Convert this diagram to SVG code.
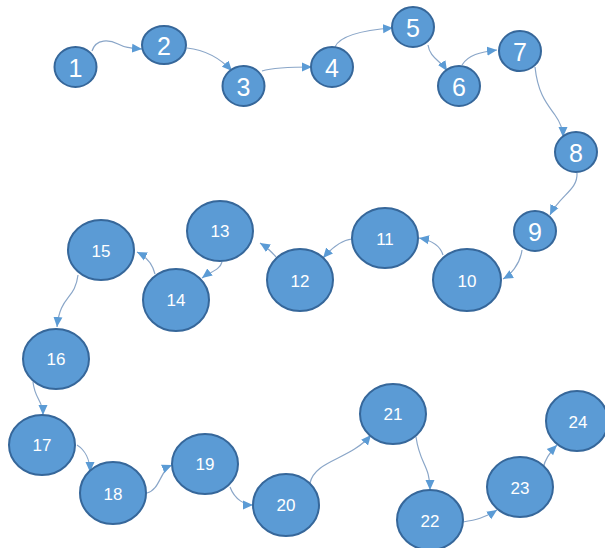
<svg xmlns="http://www.w3.org/2000/svg" width="605" height="548" viewBox="0 0 605 548">
<style>
.n ellipse{fill:#5B9BD5;stroke:#36679A;stroke-width:2}
.n text{fill:#FFFFFF;font-family:"Liberation Sans","Open Sans",sans-serif;text-anchor:middle;dominant-baseline:central}
.s text{font-size:25px}
.b text{font-size:17px}
#edges path{fill:none;stroke:#8AA6C8;stroke-width:1.2;marker-end:url(#ah)}
</style>
<defs>
<marker id="ah" viewBox="0 0 10 10" refX="10" refY="5" markerWidth="10" markerHeight="10" markerUnits="userSpaceOnUse" orient="auto">
<path d="M0,0.5 L10,5 L0,9.5 Z" fill="#5B9BD5"/>
</marker>
</defs>
<rect width="605" height="548" fill="#FFFFFF"/>
<g id="edges">
<path d="M92,51 C96,38 110,40 118,44 S130,48 142,49"/>
<path d="M187,48 C205,50 220,58 232,71"/>
<path d="M262,71 C275,67 295,67 312,67"/>
<path d="M335,47 C340,35 365,30 393,28"/>
<path d="M428,45 C430,58 440,60 447,71"/>
<path d="M462,65 C468,55 480,52 497,50"/>
<path d="M535,67 C538,95 548,105 555,115 C560,122 563,128 563,137"/>
<path d="M577,173 C578,190 560,195 550,215"/>
<path d="M522,250 C520,265 510,275 503,279"/>
<path d="M443,255 C440,245 430,240 419,238"/>
<path d="M352,239 C340,240 330,250 323,258"/>
<path d="M276,257 C272,252 268,248 260,243"/>
<path d="M222,262 C220,270 210,272 202,278"/>
<path d="M155,274 C152,262 145,256 137,252"/>
<path d="M78,275 C75,300 60,295 57,327"/>
<path d="M33,382 C35,400 43,400 43,415"/>
<path d="M77,445 C85,450 90,460 90,472"/>
<path d="M147,493 C160,490 160,470 172,465"/>
<path d="M230,487 C235,500 245,505 253,505"/>
<path d="M310,483 C315,460 350,460 371,435"/>
<path d="M416,437 C420,465 430,465 430,490"/>
<path d="M463,522 C475,520 485,518 497,510"/>
<path d="M543,468 C545,460 550,452 557,445"/>
</g>
<g id="n1" class="n s"><ellipse cx="75.5" cy="67" rx="21" ry="20"/><text x="75.5" y="68">1</text></g>
<g id="n2" class="n s"><ellipse cx="164" cy="45" rx="22" ry="19"/><text x="164" y="46">2</text></g>
<g id="n3" class="n s"><ellipse cx="243.5" cy="86" rx="21" ry="20"/><text x="243.5" y="87">3</text></g>
<g id="n4" class="n s"><ellipse cx="332" cy="67" rx="21" ry="20"/><text x="332" y="68">4</text></g>
<g id="n5" class="n s"><ellipse cx="413" cy="27" rx="21" ry="20"/><text x="413" y="28">5</text></g>
<g id="n6" class="n s"><ellipse cx="459" cy="86" rx="21" ry="20"/><text x="459" y="87">6</text></g>
<g id="n7" class="n s"><ellipse cx="520" cy="51" rx="21" ry="20"/><text x="520" y="52">7</text></g>
<g id="n8" class="n s"><ellipse cx="576" cy="152" rx="21" ry="20"/><text x="576" y="153">8</text></g>
<g id="n9" class="n s"><ellipse cx="535" cy="231" rx="21" ry="20"/><text x="535" y="232">9</text></g>
<g id="n10" class="n b"><ellipse cx="467" cy="280" rx="34" ry="31"/><text x="467" y="281">10</text></g>
<g id="n11" class="n b"><ellipse cx="385" cy="238" rx="33" ry="30"/><text x="385" y="239">11</text></g>
<g id="n12" class="n b"><ellipse cx="300" cy="280" rx="33" ry="31"/><text x="300" y="281">12</text></g>
<g id="n13" class="n b"><ellipse cx="220" cy="231" rx="33" ry="30"/><text x="220" y="231">13</text></g>
<g id="n14" class="n b"><ellipse cx="176" cy="300" rx="33" ry="31"/><text x="176" y="300">14</text></g>
<g id="n15" class="n b"><ellipse cx="101" cy="250" rx="33" ry="30"/><text x="101" y="251">15</text></g>
<g id="n16" class="n b"><ellipse cx="56" cy="359" rx="33" ry="30"/><text x="56" y="359">16</text></g>
<g id="n17" class="n b"><ellipse cx="42" cy="445" rx="33" ry="30"/><text x="42" y="445">17</text></g>
<g id="n18" class="n b"><ellipse cx="113" cy="493" rx="33" ry="31"/><text x="113" y="494">18</text></g>
<g id="n19" class="n b"><ellipse cx="205" cy="464" rx="33" ry="30"/><text x="205" y="464">19</text></g>
<g id="n20" class="n b"><ellipse cx="286" cy="505" rx="33" ry="31"/><text x="286" y="505">20</text></g>
<g id="n21" class="n b"><ellipse cx="393" cy="414" rx="33" ry="30"/><text x="393" y="414">21</text></g>
<g id="n22" class="n b"><ellipse cx="430" cy="520" rx="33" ry="30"/><text x="430" y="521">22</text></g>
<g id="n23" class="n b"><ellipse cx="520" cy="487" rx="33" ry="30"/><text x="520" y="488">23</text></g>
<g id="n24" class="n b"><ellipse cx="577" cy="421" rx="31" ry="30"/><text x="578" y="422">24</text></g>
</svg>
